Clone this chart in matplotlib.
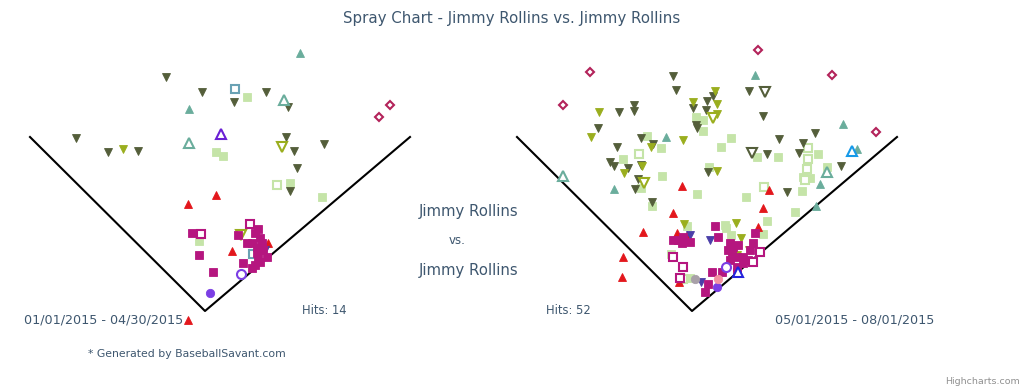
import matplotlib.pyplot as plt

# Координаты отбитых мячей: x - влево/вправо от дома, y - вглубь поля
# Левая диаграмма: 01/01/2015 - 04/30/2015
l_fly_dark = [(-39, 234), (-3, 219), (29, 209), (61, 219), (83, 204), (-129, 173), (-97, 159),
              (-67, 160), (81, 174), (89, 160), (119, 167), (92, 143), (85, 120)]
l_fly_lime = [(-82, 162)]
l_fly_lime_open = [(77, 164), (36, 76)]
l_line_teal = [(95, 258), (-16, 202)]
l_line_teal_open = [(79, 211), (-16, 168)]
l_purple_tri_open = [(16, 177)]
l_steel_sq_open = [(30, 222), (48, 57)]
l_single_green = [(42, 214), (11, 159), (18, 155), (85, 128), (117, 114), (-6, 70)]
l_single_green_open = [(72, 126)]
l_red_tri = [(11, 116), (-17, 107), (27, 60), (63, 68), (-17, -9)]
l_hr = [(174, 194), (185, 206)]
l_purple_dot = [(5, 18)]
l_purple_ring = [(36, 37)]
l_ground = [(-13, 78), (-6, 56), (8, 39), (38, 48), (50, 78), (55, 73), (42, 68), (47, 68),
            (52, 64), (57, 68), (58, 61), (53, 54), (55, 49), (50, 46), (47, 43), (62, 54),
            (52, 58), (33, 76), (53, 82)]
l_ground_open = [(45, 87), (-4, 77)]
l_navy_tri = [(60, 61)]

# Правая диаграмма: 05/01/2015 - 08/01/2015
r_hr = [(66, 261), (-102, 239), (-129, 206), (140, 236), (184, 179)]
r_line_teal = [(63, 236), (-26, 174), (-78, 122), (151, 187), (165, 162), (128, 127), (124, 105)]
r_line_teal_open = [(-129, 135), (135, 139)]
r_blue_tri_open = [(160, 160)]
r_dkblue_tri_open = [(46, 39)]
r_fly_dark = [(-19, 235), (-16, 221), (-73, 199), (-58, 206), (-58, 200), (-94, 183), (15, 210),
              (21, 215), (14, 201), (4, 186), (5, 183), (-51, 173), (-39, 167), (-75, 164),
              (-82, 149), (-78, 145), (-64, 143), (-51, 146), (-54, 132), (-57, 122), (-40, 109),
              (16, 139), (1, 203), (57, 220), (71, 195), (87, 172), (123, 178), (111, 168),
              (107, 158), (75, 157), (149, 145), (95, 119)]
r_fly_dark_open = [(73, 219), (60, 158)]
r_fly_lime = [(-93, 199), (-101, 174), (-41, 164), (-9, 171), (-68, 138), (-50, 145), (1, 209),
              (25, 207), (23, 220), (25, 197), (25, 140), (-8, 87), (44, 88), (49, 73), (57, 61),
              (45, 56)]
r_fly_lime_open = [(21, 193), (-48, 128)]
r_single_green = [(-45, 175), (-31, 163), (-69, 152), (4, 194), (11, 191), (11, 180), (29, 164),
                  (39, 173), (17, 144), (-30, 135), (-51, 123), (5, 117), (-40, 105), (65, 154),
                  (86, 154), (54, 114), (103, 99), (75, 90), (110, 120), (126, 157), (135, 144),
                  (111, 134), (118, 133), (33, 86), (39, 76), (71, 77), (-21, 57), (-2, 33),
                  (-5, 85), (34, 83)]
r_single_green_open = [(-53, 157), (72, 124), (116, 163), (116, 152), (115, 142), (113, 131), (-9, 32)]
r_red_tri = [(-10, 125), (-19, 98), (-49, 79), (-69, 54), (-70, 34), (-15, 78), (-5, 76),
             (-13, 29), (71, 103), (66, 84), (77, 121)]
r_ground = [(23, 85), (26, 74), (20, 39), (30, 39), (13, 19), (-19, 71), (-14, 71), (-9, 74),
            (-2, 69), (-10, 68), (38, 68), (41, 64), (46, 66), (40, 59), (45, 54), (51, 54),
            (58, 61), (56, 51), (45, 44), (51, 48), (61, 68), (63, 78), (16, 27), (45, 39),
            (38, 51), (36, 61)]
r_ground_open = [(-19, 54), (-9, 44), (-12, 33), (68, 59), (61, 49)]
r_navy_tri = [(18, 71), (9, 29), (-2, 76)]
r_purple_dot = [(25, 24)]
r_purple_ring = [(34, 44)]
r_pink_dot = [(26, 32)]
r_gray_dot = [(3, 32)]

# Линии фола (концы от дома)
foul_left = (-175, 174)
foul_right = (205, 174)

text_color = '#3e576f'

# Стиль: (маркер, цвет, залит ли, размер)
styles = {
    'single_green': ('s', '#c5e4a8', True, 6),
    'single_green_open': ('s', '#c5e4a8', False, 6),
    'fly_dark': ('v', '#545e3a', True, 6),
    'fly_dark_open': ('v', '#545e3a', False, 6.5),
    'fly_lime': ('v', '#9aae1e', True, 6),
    'fly_lime_open': ('v', '#9aae1e', False, 6.5),
    'line_teal': ('^', '#6aad9c', True, 6),
    'line_teal_open': ('^', '#6aad9c', False, 6.5),
    'red_tri': ('^', '#e3171c', True, 6),
    'ground': ('s', '#b5167f', True, 6),
    'ground_open': ('s', '#b5167f', False, 6),
    'steel_sq_open': ('s', '#6aa2b4', False, 6),
    'purple_tri_open': ('^', '#6a1fd4', False, 6.5),
    'blue_tri_open': ('^', '#1699e8', False, 6.5),
    'dkblue_tri_open': ('^', '#2424dc', False, 6.5),
    'navy_tri': ('v', '#4a3ea8', True, 6),
    'hr': ('D', '#b3235a', False, 4.5),
    'purple_dot': ('o', '#7b3ee4', True, 6),
    'purple_ring': ('o', '#7b3ee4', False, 6.5),
    'pink_dot': ('o', '#f492a2', True, 6),
    'gray_dot': ('o', '#a8a0a8', True, 6),
}

left_sets = [('single_green', l_single_green), ('single_green_open', l_single_green_open),
             ('fly_dark', l_fly_dark), ('fly_lime', l_fly_lime), ('fly_lime_open', l_fly_lime_open),
             ('line_teal', l_line_teal), ('line_teal_open', l_line_teal_open),
             ('steel_sq_open', l_steel_sq_open), ('purple_tri_open', l_purple_tri_open),
             ('red_tri', l_red_tri), ('navy_tri', l_navy_tri), ('ground', l_ground),
             ('ground_open', l_ground_open), ('hr', l_hr),
             ('purple_dot', l_purple_dot), ('purple_ring', l_purple_ring)]

right_sets = [('single_green', r_single_green), ('single_green_open', r_single_green_open),
              ('fly_dark', r_fly_dark), ('fly_dark_open', r_fly_dark_open),
              ('fly_lime', r_fly_lime), ('fly_lime_open', r_fly_lime_open),
              ('line_teal', r_line_teal), ('line_teal_open', r_line_teal_open),
              ('blue_tri_open', r_blue_tri_open), ('red_tri', r_red_tri),
              ('navy_tri', r_navy_tri), ('gray_dot', r_gray_dot), ('ground', r_ground),
              ('ground_open', r_ground_open), ('dkblue_tri_open', r_dkblue_tri_open),
              ('hr', r_hr), ('purple_dot', r_purple_dot), ('purple_ring', r_purple_ring),
              ('pink_dot', r_pink_dot)]


W, H = 1024, 390
fig = plt.figure(figsize=(W / 100, H / 100), dpi=100)


def draw_field(left_px, sets):
    # оси в пикселях: дом находится в (left_px + 185, 311)
    ax = fig.add_axes([left_px / W, (H - 330) / H, 400 / W, 290 / H])
    ax.set_xlim(-185, 215)
    ax.set_ylim(-19, 271)
    ax.axis('off')
    ax.plot([foul_left[0], 0, foul_right[0]], [foul_left[1], 0, foul_right[1]],
            color='black', linewidth=1.5, zorder=1)
    for name, pts in sets:
        marker, color, filled, size = styles[name]
        xs = [p[0] for p in pts]
        ys = [p[1] for p in pts]
        ax.plot(xs, ys, linestyle='none', marker=marker, markersize=size,
                markerfacecolor=color if filled else 'white',
                markeredgecolor=color, markeredgewidth=0.6 if filled else 1.5,
                clip_on=False, zorder=2)
    return ax


draw_field(20, left_sets)
draw_field(507, right_sets)

font = 'DejaVu Sans'
fig.text(512 / W, 1 - 18 / H, 'Spray Chart - Jimmy Rollins vs. Jimmy Rollins',
         ha='center', va='center', fontsize=10.8, color=text_color, family=font)
fig.text(469 / W, 1 - 212 / H, 'Jimmy Rollins', ha='center', va='center',
         fontsize=10.7, color=text_color, family=font)
fig.text(457 / W, 1 - 241 / H, 'vs.', ha='center', va='center',
         fontsize=8.5, color=text_color, family=font)
fig.text(469 / W, 1 - 270 / H, 'Jimmy Rollins', ha='center', va='center',
         fontsize=10.7, color=text_color, family=font)
fig.text(24 / W, 1 - 320 / H, '01/01/2015 - 04/30/2015', ha='left', va='center',
         fontsize=9.2, color=text_color, family=font)
fig.text(934 / W, 1 - 320 / H, '05/01/2015 - 08/01/2015', ha='right', va='center',
         fontsize=9.2, color=text_color, family=font)
fig.text(302 / W, 1 - 310 / H, 'Hits: 14', ha='left', va='center',
         fontsize=8.3, color=text_color, family=font)
fig.text(546 / W, 1 - 310 / H, 'Hits: 52', ha='left', va='center',
         fontsize=8.3, color=text_color, family=font)
fig.text(88 / W, 1 - 354 / H, '* Generated by BaseballSavant.com', ha='left', va='center',
         fontsize=7.8, color=text_color, family=font)
fig.text(1020 / W, 1 - 381 / H, 'Highcharts.com', ha='right', va='center',
         fontsize=6.8, color='#909090', family=font)

fig.savefig('out.png', dpi=100)
